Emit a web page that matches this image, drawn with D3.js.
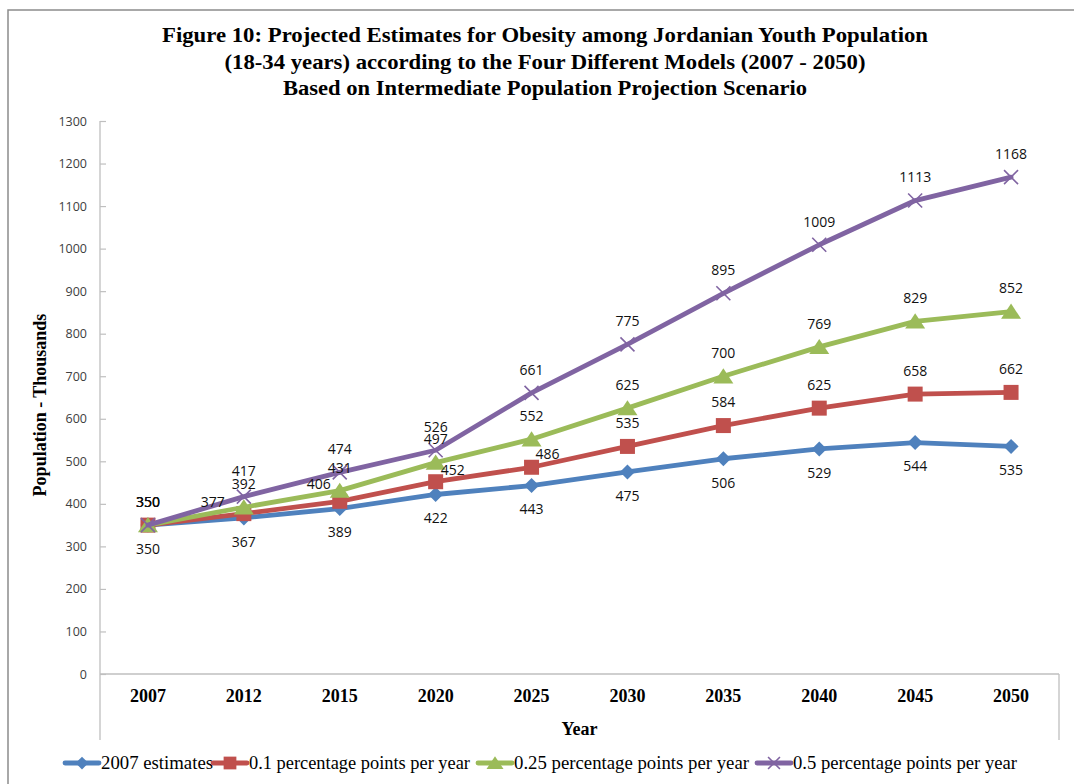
<!DOCTYPE html>
<html>
<head>
<meta charset="utf-8">
<script src="https://cdn.jsdelivr.net/npm/d3@7"></script>
<style>
  html, body { margin: 0; padding: 0; background: #fff; }
  svg { display: block; }
</style>
</head>
<body>
<svg id="chart" width="1074" height="784"></svg>
<script>
// ---- Data ----
const years = ["2007", "2012", "2015", "2020", "2025", "2030", "2035", "2040", "2045", "2050"];
const estimates2007 = [350, 367, 389, 422, 443, 475, 506, 529, 544, 535];
const pp01 = [350, 377, 406, 452, 486, 535, 584, 625, 658, 662];
const pp025 = [350, 392, 431, 497, 552, 625, 700, 769, 829, 852];
const pp05 = [350, 417, 474, 526, 661, 775, 895, 1009, 1113, 1168];
const seriesNames = ["2007 estimates", "0.1 percentage points per year", "0.25 percentage points per year", "0.5 percentage points per year"];
const yTicks = [0, 100, 200, 300, 400, 500, 600, 700, 800, 900, 1000, 1100, 1200, 1300];
const titleLines = [
  "Figure 10: Projected Estimates for  Obesity among Jordanian Youth Population",
  "(18-34 years) according  to the Four Different  Models (2007 - 2050)",
  "Based on Intermediate  Population Projection Scenario"
];

// ---- Styles / layout ----
const colors = ["#4F81BD", "#C0504D", "#9BBB59", "#8064A2"];
const markers = ["diamond", "square", "triangle", "cross"];
const serif = "'Liberation Serif', 'Times New Roman', serif";
const sans = "'Open Sans', 'Liberation Sans', sans-serif";

const svg = d3.select("#chart");
const plot = { left: 100, right: 1059, top: 121, bottom: 674 };

// outer border
svg.append("rect").attr("x", 8).attr("y", 10).attr("width", 1200).attr("height", 900)
  .attr("fill", "none").attr("stroke", "#8c8c8c").attr("stroke-width", 1.5);

// title
const titleY = [42, 69, 95];
const titleW = [766, 641, 524];
titleLines.forEach((t, i) => {
  svg.append("text").attr("x", 545).attr("y", titleY[i]).attr("text-anchor", "middle")
    .attr("font-family", serif).attr("font-weight", "bold").attr("font-size", 22)
    .attr("textLength", titleW[i]).attr("lengthAdjust", "spacingAndGlyphs")
    .attr("fill", "#000").text(t);
});

const x = d3.scaleBand().domain(years).range([plot.left, plot.right]);
const y = d3.scaleLinear().domain([0, 1300]).range([plot.bottom, plot.top]);
const cx = d => x(d) + x.bandwidth() / 2;

// axes lines
const axisColor = "#bfbfbf";
svg.append("line").attr("x1", plot.left).attr("x2", plot.left).attr("y1", plot.top).attr("y2", 740)
  .attr("stroke", axisColor).attr("stroke-width", 1.3);
svg.append("line").attr("x1", plot.right).attr("x2", plot.right).attr("y1", plot.bottom).attr("y2", 740)
  .attr("stroke", axisColor).attr("stroke-width", 1.3);
svg.append("line").attr("x1", plot.left).attr("x2", plot.right).attr("y1", plot.bottom).attr("y2", plot.bottom)
  .attr("stroke", axisColor).attr("stroke-width", 1.5);

// y axis ticks
const yAxis = d3.axisRight(y).tickValues(yTicks).tickSize(6).tickFormat(d3.format("d"));
const gy = svg.append("g").attr("transform", `translate(${plot.left},0)`).call(yAxis);
gy.select(".domain").remove();
gy.selectAll(".tick line").attr("stroke", axisColor).attr("stroke-width", 1.2);
gy.selectAll(".tick text").attr("x", -13).attr("text-anchor", "end")
  .attr("font-family", sans).attr("font-size", 12.5).attr("fill", "#404040");

// x axis labels
const xAxis = d3.axisBottom(x).tickSize(0).tickPadding(0);
const gx = svg.append("g").attr("transform", `translate(0,${plot.bottom})`).call(xAxis);
gx.select(".domain").remove();
gx.selectAll(".tick text").attr("y", 28).attr("dy", 0)
  .attr("font-family", serif).attr("font-weight", "bold").attr("font-size", 18).attr("fill", "#000");

// axis titles
svg.append("text").attr("x", (plot.left + plot.right) / 2).attr("y", 735).attr("text-anchor", "middle")
  .attr("font-family", serif).attr("font-weight", "bold").attr("font-size", 18).text("Year");
svg.append("text").attr("transform", "translate(46,405) rotate(-90)").attr("text-anchor", "middle")
  .attr("font-family", serif).attr("font-weight", "bold").attr("font-size", 18).text("Population - Thousands");

// marker drawing
function drawMarker(g, type, color, px, py, scale) {
  const s = scale || 1;
  if (type === "diamond") {
    const r = 7.5 * s;
    g.append("path").attr("d", `M${px},${py - r}L${px + r},${py}L${px},${py + r}L${px - r},${py}Z`).attr("fill", color);
  } else if (type === "square") {
    const r = 7.5 * s;
    g.append("rect").attr("x", px - r).attr("y", py - r).attr("width", 2 * r).attr("height", 2 * r).attr("fill", color);
  } else if (type === "triangle") {
    const w = 10 * s, h = 8 * s;
    g.append("path").attr("d", `M${px},${py - h}L${px + w},${py + h * 0.9}L${px - w},${py + h * 0.9}Z`).attr("fill", color);
  } else if (type === "cross") {
    const r = 7 * s;
    g.append("path").attr("d", `M${px - r},${py - r}L${px + r},${py + r}M${px - r},${py + r}L${px + r},${py - r}`)
      .attr("stroke", color).attr("stroke-width", 1.6).attr("fill", "none");
  }
}

const allSeries = [estimates2007, pp01, pp025, pp05];
const line = d3.line().x((d, i) => cx(years[i])).y(d => y(d));

allSeries.forEach((vals, si) => {
  const g = svg.append("g");
  g.append("path").datum(vals).attr("d", line).attr("fill", "none")
    .attr("stroke", colors[si]).attr("stroke-width", 4.8).attr("stroke-linejoin", "round").attr("stroke-linecap", "round");
  vals.forEach((v, i) => drawMarker(g, markers[si], colors[si], cx(years[i]), y(v)));
});

// data labels
const labelOffset = [
  () => ({ dx: 0, dy: 24 }),
  i => ({ 1: { dx: -31, dy: -12 }, 2: { dx: -21, dy: -17 }, 3: { dx: 17, dy: -12 }, 4: { dx: 16, dy: -13 } }[i] || { dx: 0, dy: -23 }),
  () => ({ dx: 0, dy: -23 }),
  i => (i === 1 ? { dx: 0, dy: -26 } : { dx: 0, dy: -23 })
];
allSeries.forEach((vals, si) => {
  vals.forEach((v, i) => {
    const o = labelOffset[si](i);
    svg.append("text").attr("x", cx(years[i]) + o.dx).attr("y", y(v) + o.dy)
      .attr("dy", "0.35em").attr("text-anchor", "middle")
      .attr("font-family", sans).attr("font-size", 14).attr("fill", "#111").text(v);
  });
});

// legend
const legendSampleX = [65, 213, 478, 757];
const legendTextW = [112, 221, 235, 224];
const ly = 763;
seriesNames.forEach((name, si) => {
  const g = svg.append("g");
  const lx = legendSampleX[si];
  g.append("line").attr("x1", lx).attr("x2", lx + 34).attr("y1", ly).attr("y2", ly)
    .attr("stroke", colors[si]).attr("stroke-width", 4.8).attr("stroke-linecap", "round");
  drawMarker(g, markers[si], colors[si], lx + 17, ly, 0.85);
  g.append("text").attr("x", lx + 36).attr("y", ly + 6)
    .attr("font-family", serif).attr("font-size", 19).attr("fill", "#000")
    .attr("textLength", legendTextW[si]).attr("lengthAdjust", "spacingAndGlyphs").text(name);
});
</script>
</body>
</html>
